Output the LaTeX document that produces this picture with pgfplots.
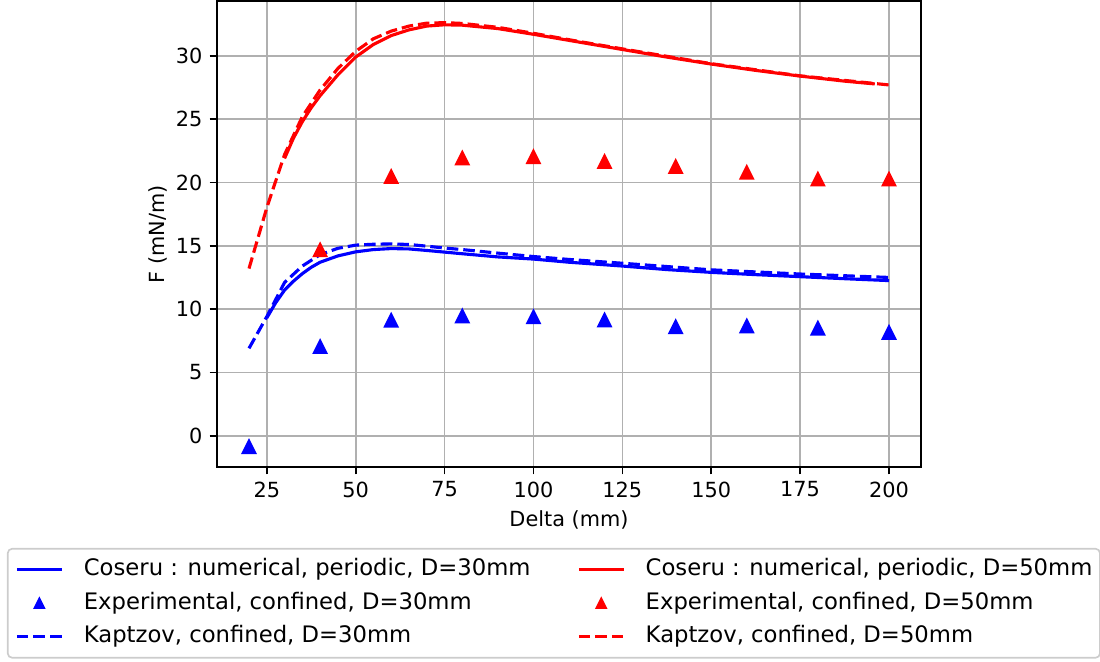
\documentclass[border=0pt]{standalone}
\usepackage{fontspec}
\setmainfont{DejaVu Sans}
\usepackage{pgfplots}
\pgfplotsset{compat=1.18}

\definecolor{gridgray}{RGB}{176,176,176}
\definecolor{framegray}{RGB}{204,204,204}

% upward triangle with equal width and height
\pgfdeclareplotmark{mtri}{%
  \pgfpathmoveto{\pgfqpoint{0pt}{\pgfplotmarksize}}%
  \pgfpathlineto{\pgfqpoint{-\pgfplotmarksize}{-\pgfplotmarksize}}%
  \pgfpathlineto{\pgfqpoint{\pgfplotmarksize}{-\pgfplotmarksize}}%
  \pgfpathclose
  \pgfusepathqfillstroke}

\begin{document}
\fontsize{10bp}{12bp}\selectfont
\begin{tikzpicture}
\useasboundingbox (0,0) rectangle (528bp,317.76bp);
\begin{axis}[
  at={(104.16bp,93.6bp)}, anchor=south west,
  scale only axis, width=337.92bp, height=223.68bp,
  xmin=11, xmax=209, ymin=-2.47, ymax=34.33,
  xtick={25,50,...,200}, ytick={0,5,...,30},
  tick pos=left, tick align=outside, major tick length=3.5bp,
  every tick/.style={black, line width=0.8bp},
  axis line style={line width=0.8bp},
  grid=major, major grid style={color=gridgray, line width=0.8bp},
  /pgf/number format/assume math mode=true,
  xlabel={Delta (mm)}, ylabel={F (mN/m)},
  xlabel style={at={(axis description cs:0.5,-0.1137)}, anchor=center},
  ylabel style={at={(axis description cs:-0.0838,0.5)}, anchor=center},
  legend columns=2,
  legend cell align=left,
  legend image code/.code={\draw[#1] (0bp,0bp) -- (21.6bp,0bp);},
  legend style={
    at={(axis description cs:-0.2983,-0.1738)}, anchor=north west,
    draw=framegray, line width=0.8bp, rounded corners=2bp, fill=white,
    font=\fontsize{10.9bp}{13bp}\selectfont,
    inner xsep=3.6bp, inner ysep=5bp,
    nodes={inner sep=0pt, text height=8bp, text depth=2.1bp},
    row sep=5.98bp,
    /tikz/every odd column/.append style={column sep=9.8bp},
    /tikz/every even column/.append style={column sep=22.4bp},
  },
]

% Coseru, numerical, periodic, D = 30 mm
\addplot[blue, line width=1.5bp, forget plot] coordinates {
  (25,9.3) (27.5,10.5) (30,11.5) (32.5,12.2) (35,12.8) (37.5,13.3)
  (40,13.7) (45,14.2) (50,14.52) (55,14.7) (60,14.78) (65,14.75)
  (70,14.63) (75,14.5) (80,14.37) (90,14.12) (100,13.95) (110,13.7)
  (125,13.4) (137.5,13.12) (150,12.9) (162.5,12.72) (175,12.56)
  (187.5,12.4) (200,12.25)
};
% Experimental, confined, D = 30 mm
\addplot[blue, only marks, mark=mtri, mark size=3bp, line width=1bp, forget plot] coordinates {
  (20,-0.87) (40,7.03) (60,9.11) (80,9.45) (100,9.38)
  (120,9.13) (140,8.6) (160,8.66) (180,8.49) (200,8.15)
};
% Kaptzov, confined, D = 30 mm
\addplot[blue, line width=1.5bp, dash pattern=on 5.55bp off 2.4bp, forget plot] coordinates {
  (20,6.9) (25,9.4) (30,12.1) (35,13.4) (40,14.3) (45,14.8) (50,15.05)
  (55,15.12) (60,15.15) (65,15.1) (70,14.97) (75,14.82) (80,14.7)
  (90,14.42) (100,14.15) (110,13.92) (125,13.62) (150,13.1)
  (175,12.77) (200,12.5)
};
% Coseru, numerical, periodic, D = 50 mm
\addplot[red, line width=1.5bp, forget plot] coordinates {
  (30,21.9) (32.5,23.5) (35,24.8) (37.5,25.9) (40,26.85) (45,28.5)
  (50,29.9) (55,30.9) (60,31.6) (65,32.05) (70,32.35) (75,32.45)
  (80,32.42) (90,32.15) (100,31.7) (112.5,31.1) (125,30.5)
  (137.5,29.9) (150,29.35) (162.5,28.85) (175,28.4) (187.5,28.0)
  (196,27.78)
};
% Experimental, confined, D = 50 mm
\addplot[red, only marks, mark=mtri, mark size=3bp, line width=1bp, forget plot] coordinates {
  (40,14.67) (60,20.46) (80,21.92) (100,22.03) (120,21.64)
  (140,21.26) (160,20.79) (180,20.26) (200,20.26)
};
% Kaptzov, confined, D = 50 mm
\addplot[red, line width=1.5bp, dash pattern=on 5.55bp off 2.4bp, forget plot] coordinates {
  (20,13.2) (25,18.0) (30,22.2) (35,25.2) (40,27.3) (45,29.0)
  (50,30.35) (55,31.35) (60,31.95) (65,32.35) (70,32.58) (75,32.62)
  (80,32.56) (90,32.25) (100,31.78) (112.5,31.15) (125,30.55)
  (150,29.38) (175,28.42) (200,27.7)
};

% legend, filled row by row
\addlegendimage{blue, line width=1.5bp}
\addlegendentry{Coseru : numerical, periodic, D=30mm}
\addlegendimage{red, line width=1.5bp}
\addlegendentry{Coseru : numerical, periodic, D=50mm}
\addlegendimage{legend image code/.code={%
  \path[draw=none] (0bp,0bp) -- (21.6bp,0bp);
  \path[draw=blue, fill=blue, line width=1bp, mark=mtri, mark size=2.2bp, only marks] plot coordinates {(10.8bp,0bp)};}}
\addlegendentry{Experimental, confined, D=30mm}
\addlegendimage{legend image code/.code={%
  \path[draw=none] (0bp,0bp) -- (21.6bp,0bp);
  \path[draw=red, fill=red, line width=1bp, mark=mtri, mark size=2.2bp, only marks] plot coordinates {(10.8bp,0bp)};}}
\addlegendentry{Experimental, confined, D=50mm}
\addlegendimage{blue, line width=1.5bp, dash pattern=on 5.55bp off 2.4bp}
\addlegendentry{Kaptzov, confined, D=30mm}
\addlegendimage{red, line width=1.5bp, dash pattern=on 5.55bp off 2.4bp}
\addlegendentry{Kaptzov, confined, D=50mm}
\end{axis}
\end{tikzpicture}
\end{document}
